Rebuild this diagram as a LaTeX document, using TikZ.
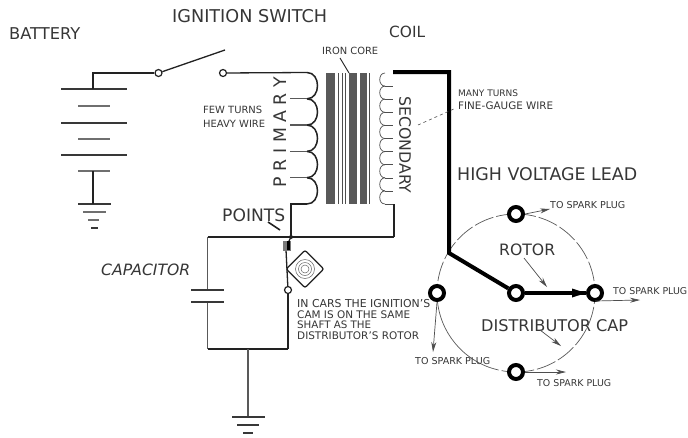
\documentclass[tikz,border=0pt]{standalone}
\usepackage{fontspec}
\setmainfont{DejaVu Sans}
\usetikzlibrary{arrows.meta,shapes.geometric}
\newcommand\fit[2]{\resizebox{#1pt}{!}{#2}}
\definecolor{ink}{HTML}{222222}
\definecolor{txt}{HTML}{363636}
\tikzset{
 wire/.style={draw=ink,line width=1.3pt},
 grayw/.style={draw=ink!75,line width=1.7pt},
 plate/.style={draw=ink!90,line width=2pt},
 splate/.style={draw=ink!65,line width=2pt},
 lead/.style={draw=black,line width=4pt,line join=miter},
 thin1/.style={draw=ink!80,line width=0.6pt},
 lbl/.style={anchor=west,inner sep=0pt,text=txt},
 term/.style={circle,draw=ink,line width=1.2pt,fill=white,minimum size=7pt,inner sep=0pt},
 hv/.style={circle,draw=black,line width=4pt,fill=white,minimum size=14pt,inner sep=0pt},
 pointer/.style={draw=ink!80,line width=0.7pt,-{Stealth[length=10pt,width=5pt]}},
}
\begin{document}
\begin{tikzpicture}[x=1pt,y=-1pt]
\useasboundingbox[fill=white] (0,0) rectangle (688,437);
% battery
\foreach \y in {89,122.5,155} \draw[plate] (61,\y) -- (127,\y);
\foreach \y in {106,138.5,171} \draw[splate] (78,\y) -- (110,\y);
\draw[plate] (78,204) -- (111,204);
\draw[splate] (83,212) -- (106,212);
\draw[splate] (88,220) -- (99,220);
\draw[plate] (91,228) -- (98,228);
\coordinate (batTop) at (93,89);
\coordinate (batLow) at (93,171);
\coordinate (batGnd) at (93,204);
\draw[wire] (batLow) -- (batGnd);
% switch
\node[term] (sw1) at (158.5,73) {};
\node[term] (sw2) at (223,73) {};
\coordinate (swTip) at (225,50);
\coordinate (priTop) at (307,72.5);
\draw[wire] (batTop) |- (sw1);
\draw[wire] (sw1) -- (swTip);
\draw[wire] (sw2) -- (priTop);
% primary
\foreach \y in {72.5,98.8,125.1,151.4,177.7}
  \draw[wire,line width=1.5pt] (307,\y) .. controls (321,\y) and (321,\y+26.3) .. (307,\y+26.3);
\foreach \y in {98.8,125.1,151.4,177.7} \draw[grayw,line width=1.3pt] (290,\y) -- (307,\y);
% core
\fill[ink!75] (326,73) rectangle (335,204);
\fill[ink!75] (349,73) rectangle (357,204);
\fill[ink!75] (360,73) rectangle (367,204);
\foreach \x in {338,342,345.5,369} \draw[ink!80,line width=1pt] (\x,73) -- (\x,204);
% secondary
\foreach \i in {0,...,9}{
  \pgfmathsetmacro\yy{73+\i*13.1}
  \draw[thin1,line width=.7pt] (385,\yy) .. controls (378,\yy) and (378,\yy+13.1) .. (385,\yy+13.1);
  \draw[thin1] (385,\yy+13.1) -- (393,\yy+13.1);
}
\coordinate (secTop) at (393,72);
\coordinate (secBot) at (394,204);
\coordinate (priBot) at (307,204);
\coordinate (busL) at (207.5,237);
\coordinate (busP) at (291,237);
\coordinate (busR) at (394,237);
\draw[wire] (priBot) -- (291,204) -- (busP);
\draw[wire] (secBot) -- (busR);
\draw[wire] (busL) -- (busR);
\fill[ink] (busP) circle (2pt);
% capacitor
\coordinate (capT) at (207.5,290);
\coordinate (capB) at (207.5,302);
\coordinate (botL) at (207.5,349);
\coordinate (botR) at (288,349);
\coordinate (gndT) at (248,349);
\coordinate (gndB) at (248,417);
\draw[grayw] (busL) -- (capT);
\draw[grayw] (capB) -- (botL);
\draw[plate] (191,290) -- (224,290);
\draw[plate] (191,302) -- (224,302);
\draw[wire] (botL) -- (botR);
\draw[grayw] (gndT) -- (gndB);
\draw[plate] (232,417) -- (265,417);
\draw[plate] (237,425) -- (259,425);
\draw[plate] (243,433) -- (253,433);
% points
\node[term] (pt) at (288,290) {};
\draw[wire] (pt) -- (botR);
\draw[wire] (pt) -- (286,250);
\fill[ink!60] (283,241) rectangle (291,251);
\fill[black] (286.5,241) rectangle (290,250);
\draw[wire] (busP) -- (289,241);
\node[diamond,draw=ink,line width=1.3pt,rounded corners=2pt,minimum size=38pt,inner sep=0pt] (cam) at (305,269) {};
\draw[ink!70,line width=.5pt] (cam.center) circle (9.5pt) circle (6.5pt) circle (4pt);
% distributor: angles run clockwise on the page because y points down
\coordinate (dc) at (516,293);
\draw[ink!75,line width=.7pt,dash pattern=on 20pt off 3pt] (516,214) arc (-90:90:79);
\draw[ink!75,line width=.7pt,dash pattern=on 20pt off 3pt] (516,214) arc (-90:-180:79);
\draw[ink!75,line width=.7pt] (437,293) arc (180:110:79);
\draw[ink!75,line width=.7pt,dash pattern=on 10pt off 3pt] (489,367.2) arc (110:90:79);
\node[hv] (tT) at (516,214) {};
\node[hv] (tL) at (437,293) {};
\node[hv] (tR) at (595,293) {};
\node[hv] (tB) at (516,372) {};
\node[hv] (rot) at (dc) {};
\coordinate (bend) at (449,253);
\draw[lead] (secTop) -- (449,72) -- (bend) -- (rot);
\draw[lead] (rot) -- (tR);
\fill[black] (572,288.5) -- (586,293) -- (572,297.5) -- cycle;
% spark arrows
\coordinate (aT) at (550,209);
\coordinate (aR) at (640,300);
\coordinate (aL) at (433,352);
\coordinate (aB) at (566,372);
\draw[pointer] (tT.east) -- (aT);
\draw[pointer] (tR.south) ++(0,-1) -- (aR);
\draw[pointer] (tL.south) -- (aL);
\draw[pointer] (tB.east) -- (aB);
% labels
\node[lbl] at (9,34) {\fit{71}{BATTERY}};
\node[lbl] at (172,16) {\fit{155}{IGNITION SWITCH}};
\node[lbl] at (389,32) {\fit{36}{COIL}};
\node[lbl] (iron) at (322,51) {\fit{56}{IRON CORE}};
\coordinate (ironEnd) at (349,73);
\draw[wire,line width=.9pt] (340,58) -- (ironEnd);
\node[lbl] at (203,110) {\fit{59}{FEW TURNS}};
\node[lbl] at (203,124) {\fit{62}{HEAVY WIRE}};
\node[text=txt,inner sep=0pt,rotate=90] at (280,132) {\fit{110}{P R I M A R Y}};
\node[text=txt,inner sep=0pt,rotate=-90] at (405,145) {\fit{97}{SECONDARY}};
\node[lbl] at (458,93) {\fit{60}{MANY TURNS}};
\node[lbl] (fine) at (458,106) {\fit{95}{FINE-GAUGE WIRE}};
\coordinate (secLeader) at (418,125);
\draw[thin1,dashed] (secLeader) -- (456,108);
\node[lbl] at (457,174) {\fit{180}{HIGH VOLTAGE LEAD}};
\node[lbl] (pts) at (222,215) {\fit{63}{POINTS}};
\coordinate (ptsA) at (268,222);
\coordinate (ptsB) at (280,230);
\draw[line width=1.6pt,ink] (ptsA) -- (ptsB);
\node[lbl,font=\itshape] at (101,270) {\fit{89}{CAPACITOR}};
\node[lbl] at (297,304) {\fit{133}{IN CARS THE IGNITION'S}};
\node[lbl] at (297,315) {\fit{113}{CAM IS ON THE SAME}};
\node[lbl] at (297,325) {\fit{74}{SHAFT AS THE}};
\node[lbl] at (297,336) {\fit{122}{DISTRIBUTOR'S ROTOR}};
\node[lbl] (rotL) at (499,250) {\fit{56}{ROTOR}};
\draw[pointer] (524,258) -- (547,287);
\node[lbl] (capL) at (481,326) {\fit{147}{DISTRIBUTOR CAP}};
\draw[pointer] (540,330) -- (561,346);
\node[lbl] at (550,205) {\fit{75}{TO SPARK PLUG}};
\node[lbl] at (613,291) {\fit{74}{TO SPARK PLUG}};
\node[lbl] at (415,361) {\fit{75}{TO SPARK PLUG}};
\node[lbl] at (537,383) {\fit{74}{TO SPARK PLUG}};
\end{tikzpicture}
\end{document}
